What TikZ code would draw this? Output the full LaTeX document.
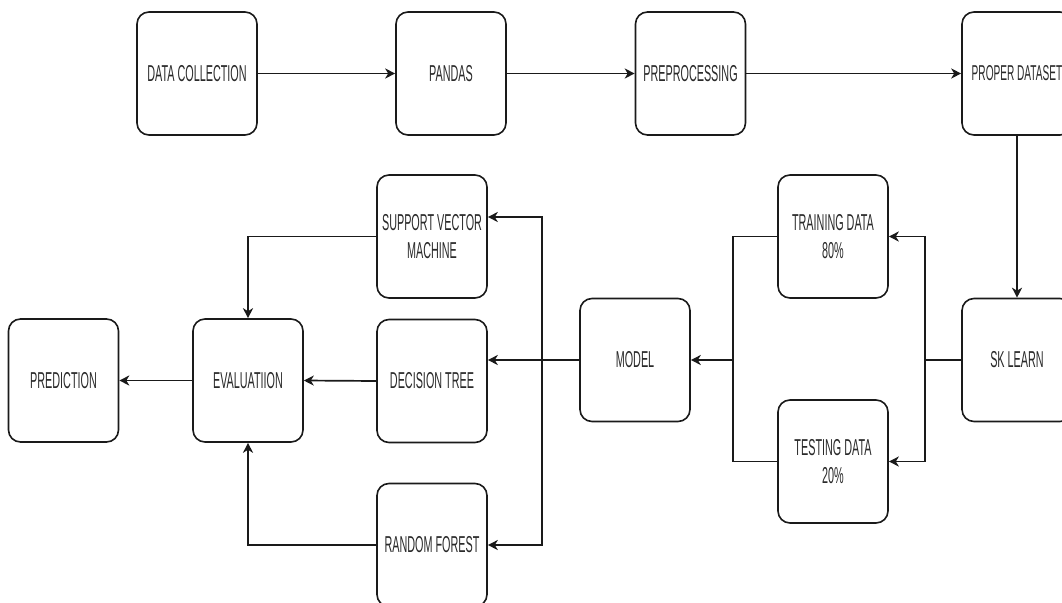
\documentclass[tikz,border=0pt]{standalone}
\usepackage{fontspec}
\setmainfont{Liberation Sans}[FakeStretch=0.47]
\usepackage{tikz}
\usetikzlibrary{positioning,calc,arrows.meta}
\definecolor{BoxLine}{HTML}{1A1A1A}
\definecolor{TextDark}{HTML}{2A2A2A}
\tikzset{
  stage/.style={draw=BoxLine, line width=1.6pt, rounded corners=12pt,
    minimum width=110pt, minimum height=123pt, inner sep=2pt,
    align=center, text=TextDark, font=\fontsize{23}{28}\selectfont},
  link/.style={draw=BoxLine, line width=1.7pt},
  flow/.style={link, -{Stealth[length=10pt,width=10pt,inset=3pt]}}
}

\begin{document}
\begin{tikzpicture}[x=1pt,y=-1pt]
	\clip (0,0) rectangle (1062,602);
	\fill[white] (0,0) rectangle (1062,602);
	
	% pipeline on top
	\node[stage, minimum width=120pt] (collect) at (197,73.5) {DATA COLLECTION};
	\node[stage] (pandas) at (451,73.5) {PANDAS};
	\node[stage] (prep) at (690.5,73.5) {PREPROCESSING};
	\node[stage, font=\fontsize{21.5}{28}\selectfont] (dataset) at (1017,73.5) {PROPER DATASET};
	
	% split of the data
	\node[stage] (sklearn) at (1017,360) {SK LEARN};
	\node[stage] (train) at (833,236.5) {TRAINING DATA\\80\%};
	\node[stage] (test) at (833,461.5) {TESTING DATA\\20\%};
	\node[stage] (model) at (635,360) {MODEL};
	
	% classifiers
	\node[stage] (svm) at (432,236.5) {SUPPORT VECTOR\\MACHINE};
	\node[stage] (dtree) at (432,381) {DECISION TREE};
	\node[stage] (rforest) at (432,545) {RANDOM FOREST};
	
	\node[stage] (eval) at (248,380.5) {EVALUATIION};
	\node[stage] (predict) at (63.5,380.5) {PREDICTION};
	
	\coordinate (rbus) at (925,360);
	\coordinate (lbus) at (733,360);
	\coordinate (mbus) at (542,360);
	
	\draw[flow] (collect) -- (pandas);
	\draw[flow] (pandas) -- (prep);
	\draw[flow] (prep) -- (dataset);
	\draw[flow] (dataset) -- (sklearn);
	
	\draw[link] (sklearn.west) -- (rbus);
	\draw[flow] (rbus) |- (train.east);
	\draw[flow] (rbus) |- (test.east);
	\draw[link] (train.west) -| (lbus);
	\draw[link] (test.west) -| (lbus);
	\draw[flow] (lbus) -- (model.east);
	
	\draw[flow] (model.west) -- (dtree.east |- model.west);
	\draw[flow] (mbus) |- ([yshift=19.5pt]svm.east);
	\draw[flow] (mbus) |- (rforest.east);
	
	\draw[flow] (svm.west) -| (eval.north);
	\draw[flow] (dtree.west) -- (eval.east);
	\draw[flow] (rforest.west) -| (eval.south);
	\draw[flow] (eval) -- (predict);
\end{tikzpicture}
\end{document}
